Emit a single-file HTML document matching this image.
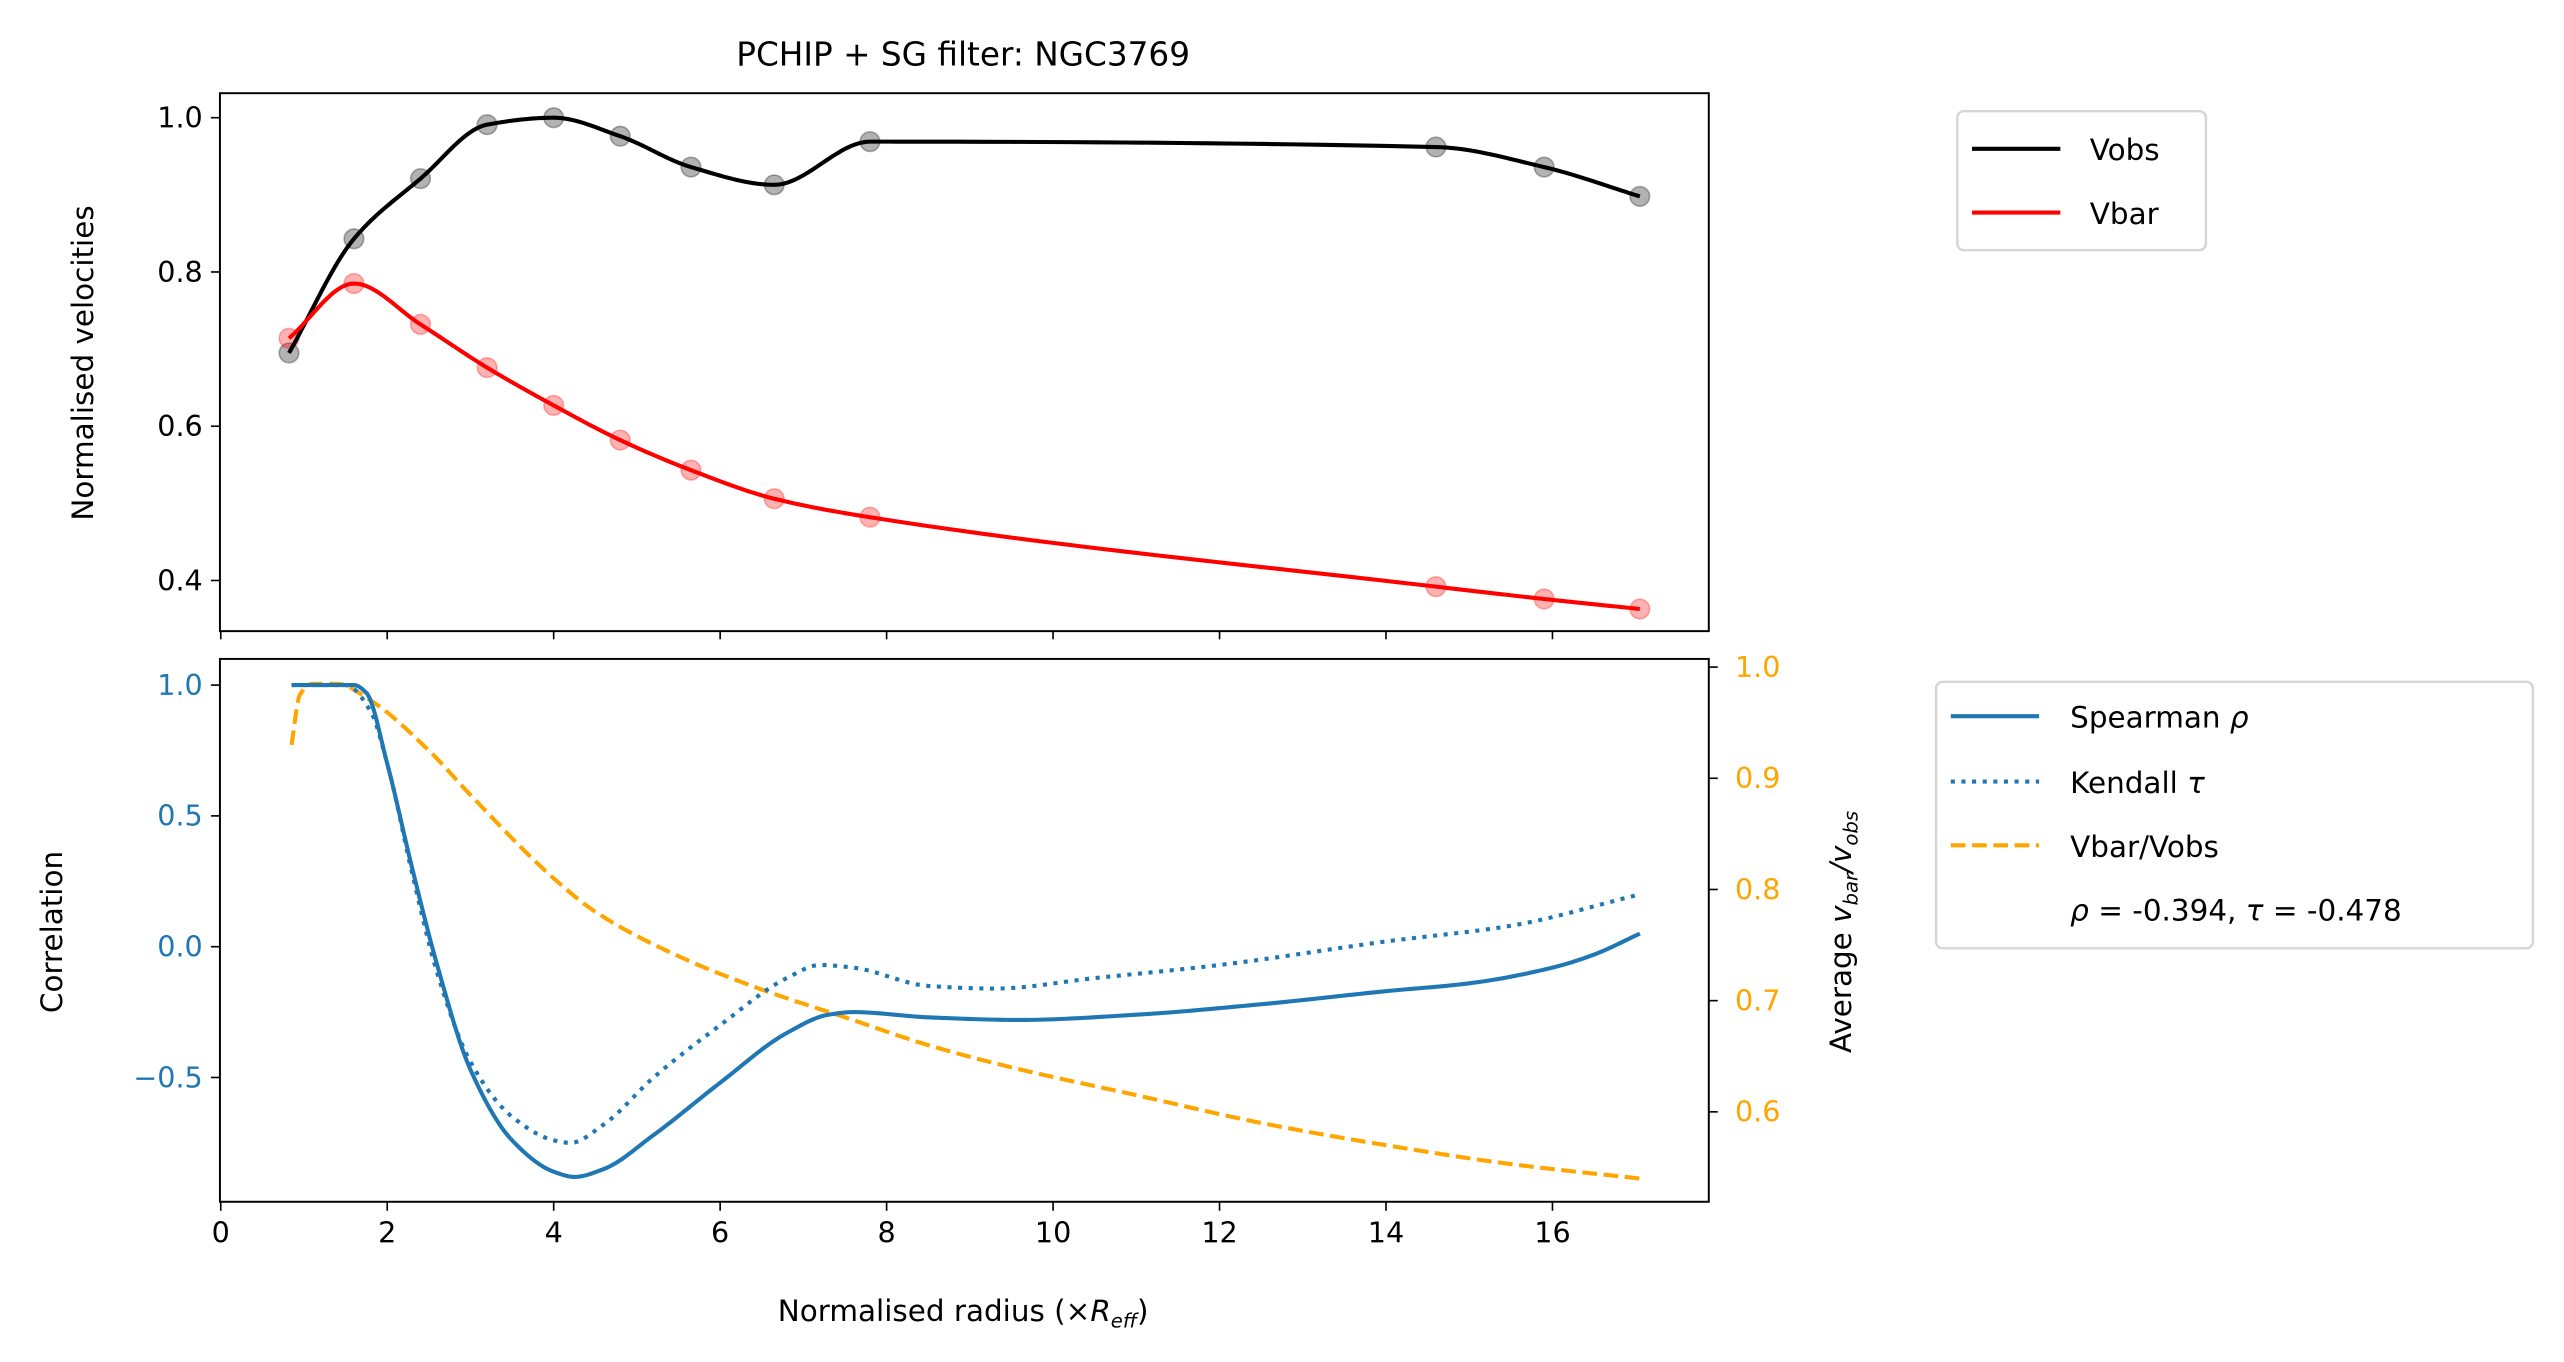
<!DOCTYPE html>
<html><head><meta charset="utf-8"><style>
html,body{margin:0;padding:0;background:#fff;}
svg{display:block;font-family:"DejaVu Sans","Liberation Sans",sans-serif;}
</style></head><body>
<svg id="chart" width="2564" height="1362" viewBox="0 0 1568 833" preserveAspectRatio="none" xmlns="http://www.w3.org/2000/svg">
<rect width="1568" height="833" fill="#fff"/>
<text x="589" y="40" font-size="20" text-anchor="middle">PCHIP + SG filter: NGC3769</text>
<g id="topPanel"></g>
<g id="botPanel"></g>
<g>
<rect x="1197" y="68" width="152" height="85" rx="4" fill="#fff" stroke="#d6d6d6" stroke-width="1.5"/>
<line x1="1206" y1="91" x2="1260" y2="91" stroke="#000" stroke-width="2.5"/>
<text x="1278" y="98" font-size="18">Vobs</text>
<line x1="1206" y1="130" x2="1260" y2="130" stroke="#ff0000" stroke-width="2.5"/>
<text x="1278" y="137" font-size="18">Vbar</text>
</g>
<g>
<rect x="1184" y="417" width="365" height="163" rx="4" fill="#fff" stroke="#d6d6d6" stroke-width="1.5"/>
<line x1="1193" y1="438" x2="1247" y2="438" stroke="#1f77b4" stroke-width="2.5"/>
<text x="1266" y="445" font-size="18">Spearman <tspan font-style="italic">ρ</tspan></text>
<line x1="1193" y1="478" x2="1247" y2="478" stroke="#1f77b4" stroke-width="2.5" stroke-dasharray="2.5,4"/>
<text x="1266" y="485" font-size="18">Kendall <tspan font-style="italic">τ</tspan></text>
<line x1="1193" y1="517" x2="1247" y2="517" stroke="#ffa500" stroke-width="2.5" stroke-dasharray="9,4"/>
<text x="1266" y="524" font-size="18">Vbar/Vobs</text>
<text x="1266" y="563" font-size="18"><tspan font-style="italic">ρ</tspan> = -0.394, <tspan font-style="italic">τ</tspan> = -0.478</text>
</g>
<text x="589" y="808" font-size="18" text-anchor="middle">Normalised radius (×<tspan font-style="italic">R</tspan><tspan font-style="italic" font-size="12" dy="4">eff</tspan><tspan dy="-4">)</tspan></text>
<text transform="translate(57,222) rotate(-90)" font-size="18" text-anchor="middle">Normalised velocities</text>
<text transform="translate(38,570) rotate(-90)" font-size="18" text-anchor="middle">Correlation</text>
<text transform="translate(1132,570) rotate(-90)" font-size="18" text-anchor="middle">Average <tspan font-style="italic">v</tspan><tspan font-style="italic" font-size="12" dy="4">bar</tspan><tspan dy="-4" font-style="italic">/v</tspan><tspan font-style="italic" font-size="12" dy="4">obs</tspan></text>
</svg>
<script>
const radii=[0.82,1.6,2.4,3.2,4.0,4.8,5.65,6.65,7.8,14.6,15.9,17.05];
const vobs=[0.695,0.843,0.921,0.991,1.0,0.976,0.936,0.913,0.969,0.962,0.936,0.898];
const vbar=[0.714,0.785,0.732,0.676,0.627,0.582,0.543,0.506,0.482,0.392,0.376,0.363];
const spX=[0.85,1.6,1.75,2.0,2.3,2.6,3.0,3.5,4.0,4.25,4.6,5.2,6.0,6.8,7.3,7.6,8.5,9.6,11,12.5,14,15,16,16.5,17.05];
const spY=[1.0,1.0,0.97,0.7,0.3,-0.07,-0.47,-0.74,-0.86,-0.88,-0.85,-0.72,-0.52,-0.33,-0.26,-0.25,-0.27,-0.28,-0.26,-0.22,-0.17,-0.14,-0.08,-0.03,0.05];
const kdX=[0.85,1.5,1.8,2.0,2.3,2.6,3.0,3.5,4.0,4.2,4.6,5.2,6.0,6.8,7.2,7.6,8.5,9.3,10.5,12,14,15.5,17.05];
const kdY=[1.0,1.0,0.9,0.7,0.28,-0.1,-0.44,-0.65,-0.74,-0.75,-0.68,-0.5,-0.3,-0.12,-0.07,-0.08,-0.15,-0.16,-0.12,-0.07,0.02,0.08,0.2];
const rtX=[0.85,0.95,1.1,1.4,1.8,2.5,3.0,4.0,4.5,5.5,6.5,7.5,8.5,9.5,11,12.5,14,15.5,17.05];
const rtY=[0.93,0.975,0.985,0.985,0.97,0.925,0.885,0.81,0.78,0.74,0.71,0.685,0.66,0.64,0.615,0.59,0.57,0.553,0.54];
const xTicks=[0,2,4,6,8,10,12,14,16];
const topTicks=[0.4,0.6,0.8,1.0];
const botTicks=[-0.5,0.0,0.5,1.0];
const rightTicks=[0.6,0.7,0.8,0.9,1.0];

const NS='http://www.w3.org/2000/svg';
const X=v=>135+v*50.9;
const Yt=v=>72+(1.0-v)*471.7;
const Yb=v=>419+(1.0-v)*160;
const Yr=v=>408+(1.0-v)*680;
function mk(tag,attrs,parent){const e=document.createElementNS(NS,tag);for(const k in attrs)e.setAttribute(k,attrs[k]);parent.appendChild(e);return e;}
function pchip(xs,ys){const n=xs.length,h=[],d=[],m=new Array(n);
 for(let i=0;i<n-1;i++){h.push(xs[i+1]-xs[i]);d.push((ys[i+1]-ys[i])/h[i]);}
 m[0]=d[0];m[n-1]=d[n-2];
 for(let i=1;i<n-1;i++){if(d[i-1]*d[i]<=0)m[i]=0;else{const w1=2*h[i]+h[i-1],w2=h[i]+2*h[i-1];m[i]=(w1+w2)/(w1/d[i-1]+w2/d[i]);}}
 const pts=[];
 for(let i=0;i<n-1;i++){for(let k=0;k<20;k++){const t=k/20,hh=h[i];
  const h00=2*t*t*t-3*t*t+1,h10=t*t*t-2*t*t+t,h01=-2*t*t*t+3*t*t,h11=t*t*t-t*t;
  pts.push([xs[i]+t*hh,h00*ys[i]+h10*hh*m[i]+h01*ys[i+1]+h11*hh*m[i+1]]);}}
 pts.push([xs[n-1],ys[n-1]]);return pts;}
function path(xs,ys,Y){return pchip(xs,ys).map((p,i)=>(i?'L':'M')+X(p[0]).toFixed(2)+','+Y(p[1]).toFixed(2)).join('');}

const topG=document.getElementById('topPanel'),botG=document.getElementById('botPanel');
radii.forEach((r,i)=>{
 const c=mk('circle',{cx:X(r),cy:Yt(vobs[i]),r:6,fill:'rgba(0,0,0,0.3)',stroke:'rgba(0,0,0,0.3)'},topG);
 
 
 const d=mk('circle',{cx:X(r),cy:Yt(vbar[i]),r:6,fill:'rgba(255,0,0,0.3)',stroke:'rgba(255,0,0,0.3)'},topG);
 
 
});
let p=mk('path',{d:path(radii,vobs,Yt),fill:'none',stroke:'#000','stroke-width':2.5},topG);


p=mk('path',{d:path(radii,vbar,Yt),fill:'none',stroke:'#ff0000','stroke-width':2.5},topG);


mk('rect',{x:134.5,y:57,width:910.5,height:329,fill:'none',stroke:'#000','stroke-width':1.2},topG);
topTicks.forEach(t=>{mk('line',{x1:134.5,x2:129,y1:Yt(t),y2:Yt(t),stroke:'#000'},topG);
 const tx=mk('text',{x:124,y:Yt(t)+6,'font-size':17.5,'text-anchor':'end'},topG);tx.textContent=t.toFixed(1);
 
 });
xTicks.forEach(t=>mk('line',{x1:X(t),x2:X(t),y1:386,y2:391,stroke:'#000'},topG));
p=mk('path',{d:path(rtX,rtY,Yr),fill:'none',stroke:'#ffa500','stroke-width':2.5,'stroke-dasharray':'9,4'},botG);


p=mk('path',{d:path(kdX,kdY,Yb),fill:'none',stroke:'#1f77b4','stroke-width':2.5,'stroke-dasharray':'2.5,4'},botG);


p=mk('path',{d:path(spX,spY,Yb),fill:'none',stroke:'#1f77b4','stroke-width':2.5},botG);


mk('rect',{x:134.5,y:403,width:910.5,height:332,fill:'none',stroke:'#000','stroke-width':1.2},botG);
botTicks.forEach(t=>{mk('line',{x1:134.5,x2:129,y1:Yb(t),y2:Yb(t),stroke:'#000'},botG);
 const tx=mk('text',{x:124,y:Yb(t)+6,'font-size':17.5,'text-anchor':'end',fill:'#1f77b4'},botG);tx.textContent=(t<0?'−':'')+Math.abs(t).toFixed(1);
 
 });
rightTicks.forEach(t=>{mk('line',{x1:1045,x2:1050.5,y1:Yr(t),y2:Yr(t),stroke:'#000'},botG);
 const tx=mk('text',{x:1061,y:Yr(t)+6,'font-size':17.5,fill:'#ffa500'},botG);tx.textContent=t.toFixed(1);
 
 });
xTicks.forEach(t=>{mk('line',{x1:X(t),x2:X(t),y1:735,y2:740.5,stroke:'#000'},botG);
 const tx=mk('text',{x:X(t),y:760,'font-size':17.5,'text-anchor':'middle'},botG);tx.textContent=t;
 
 });
</script>
</body></html>
